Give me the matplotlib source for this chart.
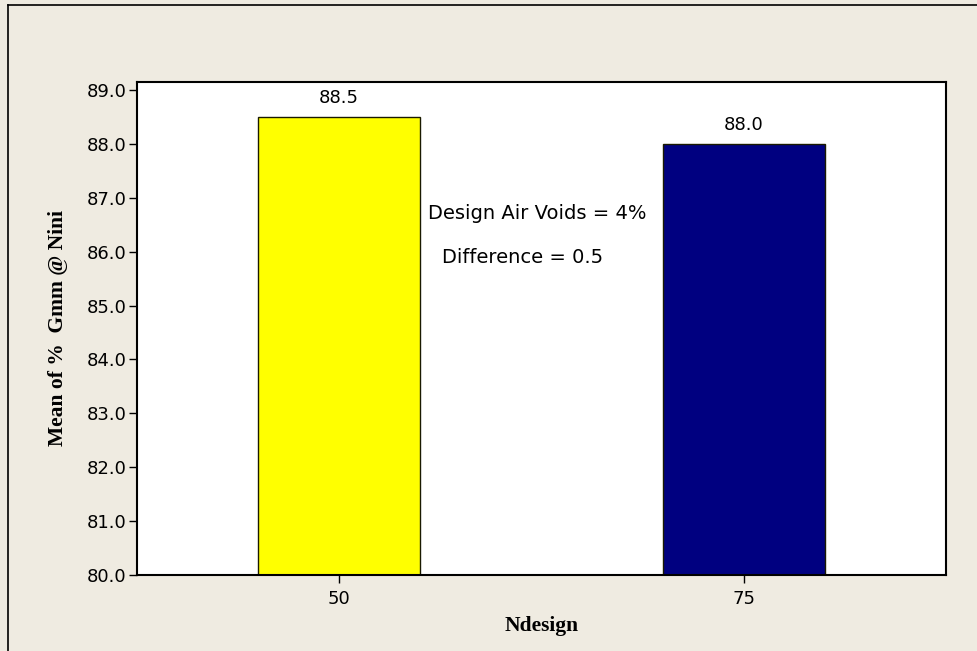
import matplotlib
matplotlib.use("Agg")
import matplotlib.pyplot as plt
from matplotlib.lines import Line2D

categories = ["50", "75"]
values = [88.5, 88.0]
bar_colors = ["#FFFF00", "#000080"]
yticks = [80.0, 81.0, 82.0, 83.0, 84.0, 85.0, 86.0, 87.0, 88.0, 89.0]
notes = ["Design Air Voids = 4%", "Difference = 0.5"]

bg = "#EFEBE1"
fig = plt.figure(figsize=(9.77, 6.51), dpi=100, facecolor=bg)
ax = fig.add_axes([137/977, 1-575/651, (946-137)/977, (575-82)/651])
ax.set_facecolor("white")

x = list(range(len(categories)))
bars = ax.bar(x, values, width=0.4, color=bar_colors, edgecolor="#1a1a00", linewidth=1.0)
ax.set_xlim(-0.5, 1.5)
ax.set_ylim(80, 89.148)
ax.set_yticks(yticks)
ax.set_yticklabels([f"{v:.1f}" for v in yticks])
ax.set_xticks(x)
ax.set_xticklabels(categories)
ax.tick_params(axis="both", direction="out", length=5.7, width=1, colors="black", labelsize=13)
ax.tick_params(axis="x", pad=5)
ax.tick_params(axis="y", pad=2)

for xi, v in zip(x, values):
    ax.annotate(f"{v:.1f}", (xi, v), xytext=(0, 7), textcoords="offset points",
                ha="center", va="bottom", fontsize=13, color="black")

ax.text(0.22, 86.71, notes[0], ha="left", va="center", fontsize=14)
ax.text(0.254, 85.9, notes[1], ha="left", va="center", fontsize=14)

for s in ax.spines.values():
    s.set_linewidth(1.5)
    s.set_color("black")

ax.set_ylabel("Mean of %  Gmm @ Nini", family="Liberation Serif", fontweight="bold", fontsize=15.5, labelpad=13)
ax.set_xlabel("Ndesign", family="Liberation Serif", fontweight="bold", fontsize=15.5, labelpad=6)

# outer frame (left and top visible)
fig.add_artist(Line2D([8/977, 8/977], [0, 1-5/651], transform=fig.transFigure, color="black", linewidth=1.2))
fig.add_artist(Line2D([8/977, 1], [1-5/651, 1-5/651], transform=fig.transFigure, color="black", linewidth=1.2))

fig.savefig("out.png", dpi=100, facecolor=bg)
